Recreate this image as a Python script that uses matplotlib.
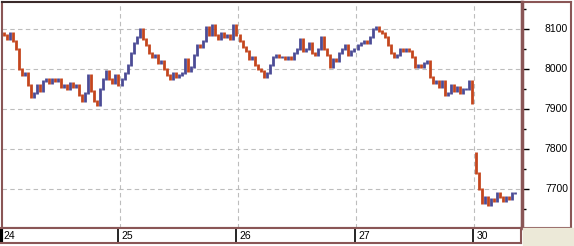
import matplotlib
matplotlib.use('Agg')
import matplotlib.pyplot as plt
import numpy as np

# Precio de cierre de cada barra (aprox. 3 px por barra)
dias = ['24', '25', '26', '27', '30']
cierre_24 = [8085, 8075, 8090, 8070, 8050, 8000, 7985, 7990, 7960, 7930,
             7940, 7960, 7945, 7970, 7975, 7965, 7975, 7970, 7975, 7955,
             7960, 7950, 7965, 7955, 7960, 7935, 7920, 7940, 7985, 7945,
             7920, 7910, 7950, 7975, 7995, 7975, 7965, 7985, 7960]
cierre_25 = [7975, 7990, 8010, 8040, 8065, 8080, 8100, 8075, 8060, 8040,
             8030, 8035, 8015, 8020, 8000, 7985, 7975, 7990, 7980, 7985,
             7990, 8025, 7995, 8005, 8035, 8060, 8055, 8070, 8105, 8085,
             8110, 8085, 8075, 8090, 8080, 8085, 8075, 8110, 8085]
cierre_26 = [8070, 8055, 8045, 8025, 8030, 8010, 8000, 7995, 7980, 7990,
             8010, 8030, 8035, 8030, 8030, 8025, 8030, 8025, 8040, 8050,
             8075, 8045, 8050, 8065, 8040, 8035, 8050, 8080, 8050, 8035,
             8005, 8025, 8020, 8040, 8050, 8060, 8035, 8045, 8050]
cierre_27 = [8060, 8065, 8070, 8065, 8080, 8100, 8105, 8095, 8090, 8080,
             8060, 8040, 8030, 8035, 8050, 8045, 8050, 8045, 8030, 8005,
             8010, 8005, 8015, 8020, 7980, 7965, 7970, 7955, 7970, 7935,
             7940, 7960, 7945, 7955, 7940, 7950, 7950, 7970, 7915]
apertura_30 = 7790
cierre_30 = [7740, 7700, 7665, 7680, 7660, 7675, 7670, 7690, 7680, 7670,
             7680, 7675, 7690, 7690]

niveles = [7700, 7800, 7900, 8000, 8100]

BARRAS_DIA = 39
rojo = '#c4461e'
azul = '#4c4c96'
borde = '#8a5656'

fig = plt.figure(figsize=(5.74, 2.46), dpi=100, facecolor='white')
W, H = 574.0, 246.0

ax = fig.add_axes([2 / W, (H - 228) / H, 520 / W, 226 / H])
ax_der = fig.add_axes([522 / W, (H - 228) / H, 49 / W, 226 / H])
ax_inf = fig.add_axes([0 / W, (H - 243) / H, 521 / W, 15 / H])
fig.patches.append(plt.Rectangle((523 / W, 0), 51 / W, 18 / H,
                                 transform=fig.transFigure, color='#ece9d8', zorder=0))

# Construir barras: apertura = cierre anterior
cierres = cierre_24 + cierre_25 + cierre_26 + cierre_27 + cierre_30
aperturas = [cierres[0] + 5] + cierres[:-1]
inicio_30 = 4 * BARRAS_DIA
aperturas[inicio_30] = apertura_30
x = np.arange(len(cierres)) + 0.5
aperturas = np.array(aperturas)
cierres = np.array(cierres)
sube = cierres >= aperturas
colores = np.where(sube, azul, rojo)
ax.vlines(x, np.minimum(aperturas, cierres) - 2, np.maximum(aperturas, cierres) + 2,
          colors=colores, linewidth=2.0, capstyle='butt')

xmax = 520 / 118 * BARRAS_DIA
ymin, ymax = 7602.5, 8167.5
limites = [i * BARRAS_DIA for i in range(1, 5)]

ax.set_xlim(0, xmax)
ax.set_ylim(ymin, ymax)
for n in niveles:
    ax.axhline(n, color='#bdbdbd', linestyle=(0, (4, 3)), linewidth=0.8, zorder=0)
for l in limites:
    ax.axvline(l, color='#bdbdbd', linestyle=(0, (4, 3)), linewidth=0.8, zorder=0)
ax.set_xticks([])
ax.set_yticks([])
for s in ax.spines.values():
    s.set_color(borde)
    s.set_linewidth(1.5)
ax.spines['top'].set_color('#3a2a2a')

# Eje de precios a la derecha
ax_der.set_ylim(ymin, ymax)
ax_der.set_xlim(0, 1)
ax_der.set_xticks([])
ax_der.yaxis.tick_left()
ax_der.set_yticks(niveles)
ax_der.set_yticklabels([])
ax_der.set_yticks([7650, 7750, 7850, 7950, 8050, 8150], minor=True)
ax_der.tick_params(axis='y', which='major', direction='in', length=5, width=1, color='black')
ax_der.tick_params(axis='y', which='minor', direction='in', length=3, width=1, color='black')
for n in niveles:
    ax_der.text(0.94, n, str(n), ha='right', va='center', fontsize=7.5,
                family='Liberation Sans', color='black')
for s in ax_der.spines.values():
    s.set_color(borde)
    s.set_linewidth(1.5)
ax_der.spines['left'].set_linewidth(2.5)

# Eje de fechas abajo
ax_inf.set_xlim(0, xmax)
ax_inf.set_ylim(0, 1)
ax_inf.set_xticks([])
ax_inf.set_yticks([])
for i, d in enumerate(dias):
    xi = i * BARRAS_DIA
    ax_inf.axvline(xi if i > 0 else 0.25, color='black', linewidth=1.2 if i > 0 else 3)
    ax_inf.text(xi + 1.1, 0.45, d, ha='left', va='center', fontsize=7.5,
                family='Liberation Sans', color='black')
for s in ax_inf.spines.values():
    s.set_color(borde)
    s.set_linewidth(1.5)
ax_inf.spines['left'].set_visible(False)

fig.savefig('out.png', dpi=100, facecolor='white')
